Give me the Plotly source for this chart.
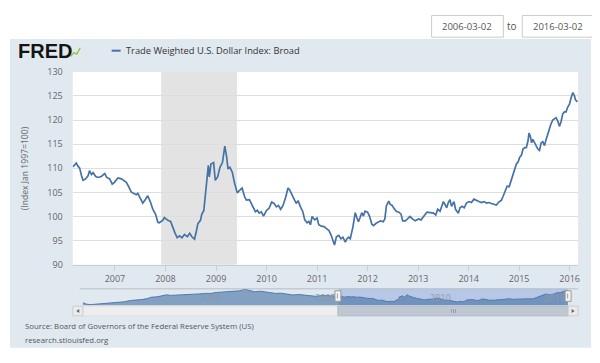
import plotly.graph_objects as go

# ---------------- data ----------------
dates = [
"2006-03-03","2006-03-09","2006-03-27","2006-04-07","2006-04-20","2006-05-04","2006-05-15","2006-06-03","2006-06-21","2006-07-01","2006-07-15","2006-07-27","2006-08-15","2006-09-01","2006-09-24","2006-10-19","2006-11-03","2006-11-24","2006-12-12","2006-12-28",
"2007-01-22","2007-02-17","2007-03-03","2007-03-24","2007-04-12","2007-04-28","2007-05-15","2007-06-04","2007-06-15","2007-06-28","2007-07-21","2007-08-10","2007-08-26","2007-09-13","2007-10-02","2007-10-21","2007-11-07","2007-11-17","2007-12-12","2007-12-24",
"2008-01-18","2008-02-07","2008-02-24","2008-03-11","2008-03-26","2008-04-12","2008-04-29","2008-05-18","2008-06-07","2008-06-24","2008-07-10","2008-07-29","2008-08-10","2008-08-22","2008-09-10","2008-09-20","2008-10-04","2008-10-14","2008-10-28","2008-11-06","2008-11-13","2008-11-25","2008-12-14","2008-12-26",
"2009-01-12","2009-01-29","2009-02-16","2009-03-05","2009-03-19","2009-03-28","2009-04-11","2009-04-28","2009-05-15","2009-06-03","2009-06-22","2009-07-08","2009-07-25","2009-08-08","2009-08-30","2009-09-13","2009-09-29","2009-10-12","2009-10-26","2009-11-09","2009-11-23","2009-12-10",
"2010-01-01","2010-01-19","2010-02-07","2010-02-24","2010-03-13","2010-03-27","2010-04-13","2010-04-30","2010-05-19","2010-06-05","2010-06-17","2010-07-01","2010-07-17","2010-08-03","2010-08-17","2010-09-03","2010-09-20","2010-10-04","2010-10-21","2010-11-02","2010-11-14","2010-11-26","2010-12-15",
"2011-01-01","2011-01-13","2011-02-01","2011-02-20","2011-03-15","2011-03-28","2011-04-13","2011-04-27","2011-05-07","2011-05-21","2011-06-07","2011-06-23","2011-07-07","2011-07-24","2011-08-05","2011-08-17","2011-08-29","2011-09-17","2011-10-04","2011-10-15","2011-10-27","2011-11-08","2011-11-20","2011-12-02","2011-12-14",
"2012-01-01","2012-01-15","2012-02-01","2012-02-13","2012-03-03","2012-03-19","2012-04-04","2012-04-23","2012-05-05","2012-05-16","2012-06-02","2012-06-13","2012-06-27","2012-07-07","2012-07-26","2012-08-14","2012-08-30","2012-09-11","2012-09-30","2012-10-16","2012-11-02","2012-11-21","2012-12-10",
"2013-01-04","2013-01-22","2013-02-09","2013-03-05","2013-03-29","2013-04-22","2013-05-08","2013-05-22","2013-06-08","2013-06-20","2013-07-02","2013-07-14","2013-07-26","2013-08-07","2013-08-19","2013-08-30","2013-09-17","2013-09-28","2013-10-18","2013-10-30","2013-11-15","2013-11-30","2013-12-16",
"2014-01-03","2014-01-21","2014-02-08","2014-02-26","2014-03-16","2014-04-04","2014-04-23","2014-05-10","2014-05-27","2014-06-14","2014-07-04","2014-07-20","2014-08-07","2014-08-26","2014-09-07","2014-09-20","2014-10-06","2014-10-21","2014-11-06","2014-11-18","2014-11-30","2014-12-12","2014-12-24",
"2015-01-05","2015-01-17","2015-01-29","2015-02-10","2015-02-22","2015-03-06","2015-03-13","2015-03-22","2015-04-01","2015-04-10","2015-04-22","2015-05-04","2015-05-16","2015-05-28","2015-06-09","2015-06-21","2015-07-03","2015-07-15","2015-07-27","2015-08-08","2015-08-20","2015-09-01","2015-09-13","2015-09-25","2015-10-07","2015-10-19","2015-10-31","2015-11-12","2015-11-24","2015-12-06","2015-12-18","2015-12-31",
"2016-01-12","2016-01-24","2016-02-05","2016-02-12","2016-02-26"]

values = [
110.3,110.5,111.1,110.5,110.1,108.5,107.5,107.8,108.5,109.5,108.7,109.1,108.3,108.1,108.3,108.9,108.1,107.8,106.7,107.1,
108.0,107.8,107.5,107.1,106.1,105.1,104.8,104.5,104.8,104.0,102.8,103.6,104.3,103.1,101.5,100.5,98.8,98.7,99.2,99.8,
99.2,99.0,97.5,96.5,95.6,96.0,95.6,96.3,95.8,96.5,95.8,95.3,96.8,98.5,99.2,100.5,101.2,104.2,108.9,110.6,108.2,110.9,111.2,107.5,
108.2,110.2,111.2,114.6,112.2,109.9,110.2,109.2,106.9,104.9,105.5,105.9,104.2,103.4,103.5,102.7,102.0,101.0,101.3,100.7,101.0,100.1,
101.3,101.7,103.0,102.7,102.0,102.3,101.5,102.3,104.0,105.9,105.5,104.5,103.7,102.7,103.3,102.0,101.0,99.3,98.7,99.0,98.3,100.0,99.3,
99.7,98.3,98.0,97.9,97.4,97.1,96.1,95.1,94.1,95.8,96.1,95.4,95.7,94.7,95.4,95.7,95.4,97.8,100.8,99.8,98.9,99.8,100.8,100.1,101.1,
100.9,100.1,98.4,98.1,98.6,98.8,99.1,98.9,99.5,102.2,103.2,102.5,102.3,101.8,101.1,100.9,100.5,99.1,99.1,99.5,100.0,99.5,99.1,
99.5,99.3,100.0,100.9,100.8,100.7,100.3,101.5,101.1,102.1,103.1,102.5,101.8,102.9,103.5,102.1,103.1,101.5,100.7,101.8,102.1,101.8,102.8,
103.1,102.9,103.6,103.3,103.1,102.9,103.1,102.8,102.9,102.7,102.5,102.4,103.0,103.4,104.2,105.3,106.3,106.2,107.7,108.7,109.7,110.9,111.3,
112.3,112.7,114.0,114.3,114.3,115.7,117.3,116.7,115.3,116.0,115.3,114.7,114.0,113.7,115.3,115.5,114.7,116.0,117.3,118.3,119.3,120.0,120.3,120.5,119.8,118.7,119.7,121.3,121.7,121.7,122.7,123.3,
124.7,125.7,125.0,124.2,123.8]

# earlier history shown only in the navigator
hist_dates = ["1995-01-04","1995-03-01","1995-05-01","1995-08-01","1995-11-01",
              "1996-02-01","1996-05-01","1996-08-01","1996-11-01",
              "1997-02-01","1997-05-01","1997-08-01","1997-11-01",
              "1998-01-01","1998-04-01","1998-07-01","1998-09-01","1998-11-01",
              "1999-02-01","1999-05-01","1999-08-01","1999-11-01",
              "2000-02-01","2000-05-01","2000-08-01","2000-11-01",
              "2001-02-01","2001-05-01","2001-08-01","2001-11-01",
              "2002-02-01","2002-04-01","2002-07-01","2002-10-01","2002-12-01",
              "2003-03-01","2003-06-01","2003-09-01","2003-12-01",
              "2004-03-01","2004-06-01","2004-09-01","2004-12-01",
              "2005-03-01","2005-06-01","2005-09-01","2005-11-01",
              "2006-01-01","2006-02-01"]
hist_values = [92.5,88.5,87.0,88.5,89.5,
               91.0,92.5,93.0,95.0,
               98.5,99.5,101.0,104.0,
               107.5,108.5,112.0,114.0,112.5,
               113.0,115.0,114.0,114.5,
               116.5,118.0,118.0,120.5,
               121.5,123.5,123.0,125.0,
               129.5,127.5,122.5,124.0,122.0,
               121.0,118.0,118.5,115.0,
               113.5,115.0,114.0,111.0,
               110.0,112.0,112.0,113.0,
               111.0,110.5]

recession_start = ["2007-12-01"]
recession_end = ["2009-06-01"]

view_start = "2006-03-02"
view_end = "2016-03-02"
nav_years = ["2000", "2005", "2010", "2015"]

series_name = "Trade Weighted U.S. Dollar Index: Broad"
y_title = "(Index Jan 1997=100)"
source_text = "Source: Board of Governors of the Federal Reserve System (US)"
site_text = "research.stlouisfed.org"

# ---------------- layout helpers ----------------
# the page body has an 8px margin, so the figure's origin sits at (8, 8) of the window
W, H = 600, 363
OFF = 8
def px(x):
    return (x - OFF) / W
def py(y):
    return 1 - (y - OFF) / H

FONT = "Open Sans"
LINE = "#4572A7"

fig = go.Figure()
fig.add_trace(go.Scatter(x=dates, y=values, mode="lines",
                         line=dict(color=LINE, width=1.7),
                         xaxis="x", yaxis="y", showlegend=False, hoverinfo="skip"))
fig.add_trace(go.Scatter(x=hist_dates + dates, y=hist_values + values, mode="lines",
                         line=dict(color="#5677AE", width=1),
                         fill="tozeroy", fillcolor="rgba(69,114,167,0.62)",
                         xaxis="x2", yaxis="y2", showlegend=False, hoverinfo="skip"))

shapes = []
# container
shapes.append(dict(type="rect", xref="paper", yref="paper", x0=px(10), x1=px(593),
                   y0=py(353), y1=py(33), fillcolor="#E1E9F0", line=dict(width=0), layer="below"))
# plot area
shapes.append(dict(type="rect", xref="paper", yref="paper", x0=px(73), x1=px(580),
                   y0=py(267), y1=py(67), fillcolor="#FFFFFF", line=dict(width=0), layer="below"))
# recession shading
for s, e in zip(recession_start, recession_end):
    shapes.append(dict(type="rect", xref="x", yref="y domain", x0=s, x1=e, y0=0, y1=1,
                       fillcolor="#E3E3E3", line=dict(width=0), layer="below"))
# navigator selection mask
shapes.append(dict(type="rect", xref="x2", yref="y2 domain", x0=view_start, x1=view_end,
                   y0=0, y1=1, fillcolor="rgba(102,140,210,0.35)", line=dict(width=0), layer="below"))
# navigator top outline
shapes.append(dict(type="line", xref="paper", yref="paper", x0=px(80), x1=px(580),
                   y0=py(292), y1=py(292), line=dict(color="#B5BDC8", width=1)))
# handles
for hx in (339, 570):
    shapes.append(dict(type="rect", xref="paper", yref="paper", x0=px(hx - 3), x1=px(hx + 3),
                       y0=py(305), y1=py(294), fillcolor="#F4F4F4", line=dict(color="#999999", width=1)))
    shapes.append(dict(type="line", xref="paper", yref="paper", x0=px(hx - 0.5), x1=px(hx - 0.5),
                       y0=py(302), y1=py(297), line=dict(color="#888888", width=0.8)))
# scrollbar track
shapes.append(dict(type="rect", xref="paper", yref="paper", x0=px(83), x1=px(570),
                   y0=py(320), y1=py(310), fillcolor="#EEEEEE", line=dict(color="#E0E0E0", width=1)))
# scrollbar thumb
shapes.append(dict(type="rect", xref="paper", yref="paper", x0=px(339), x1=px(570),
                   y0=py(320), y1=py(310), fillcolor="#BFC8D2", line=dict(color="#B0B9C4", width=1)))
for gx in (453, 455, 457):
    shapes.append(dict(type="line", xref="paper", yref="paper", x0=px(gx), x1=px(gx),
                       y0=py(317), y1=py(313), line=dict(color="#8A939E", width=0.8)))
# scrollbar buttons
for bx0, bx1, tri in ((73, 83, "L"), (570, 580, "R")):
    shapes.append(dict(type="rect", xref="paper", yref="paper", x0=px(bx0), x1=px(bx1),
                       y0=py(320), y1=py(310), fillcolor="#EBEBEB", line=dict(color="#CCCCCC", width=1)))
    cx = (bx0 + bx1) / 2
    if tri == "L":
        path = f"M {px(cx+1.5)} {py(313)} L {px(cx-1.5)} {py(315)} L {px(cx+1.5)} {py(317)} Z"
    else:
        path = f"M {px(cx-1.5)} {py(313)} L {px(cx+1.5)} {py(315)} L {px(cx-1.5)} {py(317)} Z"
    shapes.append(dict(type="path", xref="paper", yref="paper", path=path,
                       fillcolor="#666666", line=dict(width=0)))
# legend line
shapes.append(dict(type="line", xref="paper", yref="paper", x0=px(112), x1=px(121),
                   y0=py(45), y1=py(45), line=dict(color=LINE, width=2)))
# FRED icon
shapes.append(dict(type="rect", xref="paper", yref="paper", x0=px(70), x1=px(81),
                   y0=py(52), y1=py(41), fillcolor="#E6E9E3", line=dict(width=0)))
icon_path = f"M {px(71)} {py(51)} L {px(74)} {py(47)} L {px(77)} {py(48.5)} L {px(80.5)} {py(42)}"
shapes.append(dict(type="path", xref="paper", yref="paper", path=icon_path,
                   line=dict(color="#8BBF5A", width=1.3)))
# date input boxes
for bx0, bx1 in ((433, 505), (524, 596)):
    shapes.append(dict(type="rect", xref="paper", yref="paper", x0=px(bx0), x1=px(bx1),
                       y0=py(31), y1=py(8.5), fillcolor="#FFFFFF", line=dict(color="#CCCCCC", width=1)))

annotations = []
def ann(x, y, text, size, color="#555555", xanchor="left", family=FONT, **kw):
    annotations.append(dict(x=px(x), y=py(y), xref="paper", yref="paper", text=text,
                            showarrow=False, xanchor=xanchor, yanchor="middle",
                            font=dict(family=family, size=size, color=color), **kw))

ann(16, 45.5, "<b>FRED</b>", 20, color="#151515", family="Liberation Sans")
ann(124, 45, series_name, 9.3, color="#333333")
ann(25, 167, y_title, 8.6, color="#666666", xanchor="center", textangle=-90)
ann(23, 331, source_text, 7.8, color="#555555")
ann(23, 345, site_text, 7.8, color="#555555")
ann(469, 19.5, view_start, 9.5, color="#555555", xanchor="center")
ann(560, 19.5, view_end, 9.5, color="#555555", xanchor="center")
ann(514, 19.5, "to", 10, color="#555555", xanchor="center")
for yr in nav_years:
    annotations.append(dict(x=yr + "-01-01", xref="x2", y=py(301), yref="paper", text=yr,
                            showarrow=False, xanchor="left", yanchor="middle", xshift=1,
                            font=dict(family=FONT, size=9, color="#8D98A8")))

fig.update_layout(
    width=W, height=H, autosize=False,
    margin=dict(l=0, r=0, t=0, b=0),
    paper_bgcolor="#FFFFFF", plot_bgcolor="rgba(0,0,0,0)",
    font=dict(family=FONT, size=9, color="#666666"),
    showlegend=False,
    shapes=shapes, annotations=annotations,
    xaxis=dict(type="date", range=[view_start, view_end], domain=[px(73), px(580)], anchor="y",
               tickformat="%Y", dtick="M12", tick0="2007-01-01",
               ticks="outside", ticklen=5, tickcolor="#C0D0E0",
               showline=True, linecolor="#C0D0E0", linewidth=1,
               showgrid=False, zeroline=False, fixedrange=True,
               tickfont=dict(family=FONT, size=9, color="#666666")),
    yaxis=dict(range=[90, 130], domain=[py(267), py(67)], anchor="x", dtick=5, tick0=90,
               showgrid=True, gridcolor="#DEDEDE", gridwidth=1,
               showline=False, zeroline=False, ticks="", ticklabelstandoff=9, fixedrange=True,
               tickfont=dict(family=FONT, size=9, color="#666666")),
    xaxis2=dict(type="date", range=["1995-01-04", view_end], domain=[px(83), px(570)],
                anchor="y2", visible=False, fixedrange=True),
    yaxis2=dict(range=[85.5, 130.5], domain=[py(309), py(292)], anchor="x2",
                visible=False, fixedrange=True),
)

fig.write_html("out.html")
